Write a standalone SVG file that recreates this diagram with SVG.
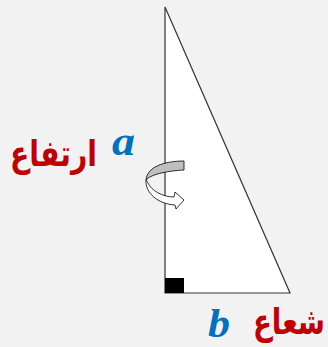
<svg xmlns="http://www.w3.org/2000/svg" width="328" height="347" viewBox="0 0 328 347">
<style>
.ar{font-family:"DejaVu Sans",sans-serif;font-weight:bold;fill:#c00000}
.var{font-family:"Liberation Serif",serif;font-style:italic;font-weight:bold;fill:#0070c0}
</style>
<rect width="328" height="347" fill="#f2f2f2"/>
<g id="triangle">
<polygon points="165,7 165,293 290,293" fill="#ffffff" stroke="#333" stroke-width="1.2"/>
<rect x="165" y="278" width="19" height="15" fill="#000"/>
</g>
<g id="rotation-arrow" stroke="#000" stroke-width="0.8" stroke-linejoin="round">
<path d="M184,161 C164,161 147,167 146,180 C150,175 165,171 184,170 Z" fill="#bfbfbf"/>
<path d="M146,180 C145,193 158,204 175,205 L176,209 L184,200 L175,192 L174,197 C162,197 151,190 148,183 Z" fill="#ffffff"/>
</g>
<g id="labels">
<text class="ar" x="10" y="166" font-size="36" textLength="87" lengthAdjust="spacingAndGlyphs">ارتفاع</text>
<text class="var" x="112" y="155" font-size="40" textLength="23" lengthAdjust="spacingAndGlyphs">a</text>
<text class="var" x="208" y="337" font-size="40" textLength="22" lengthAdjust="spacingAndGlyphs">b</text>
<text class="ar" x="253" y="334" font-size="36" textLength="72" lengthAdjust="spacingAndGlyphs">شعاع</text>
</g>
</svg>
